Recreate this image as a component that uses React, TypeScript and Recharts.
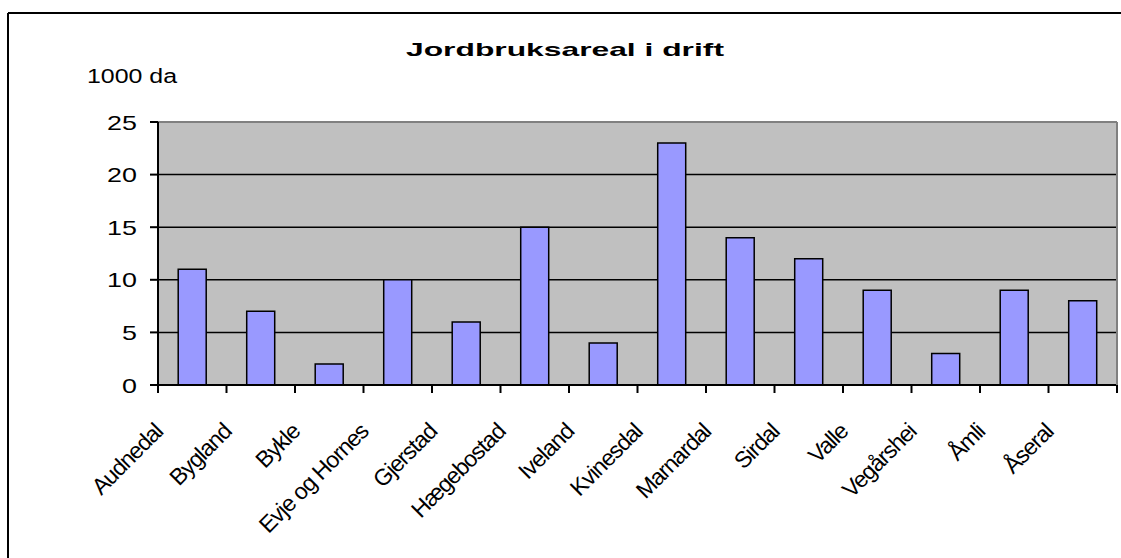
import { BarChart, Bar, XAxis, YAxis, CartesianGrid, ReferenceLine } from 'recharts'

const kommuner = [
  'Audnedal', 'Bygland', 'Bykle', 'Evje og Hornes', 'Gjerstad', 'Hægebostad', 'Iveland',
  'Kvinesdal', 'Marnardal', 'Sirdal', 'Valle', 'Vegårshei', 'Åmli', 'Åseral',
]
const areal = [11, 7, 2, 10, 6, 15, 4, 23, 14, 12, 9, 3, 9, 8]
const yTicks = [0, 5, 10, 15, 20, 25]
const title = 'Jordbruksareal i drift'
const unit = '1000 da'

const data = kommuner.map((name, i) => ({ name, areal: areal[i] }))

const W = 1121
const H = 558
const plotLeft = 158
const plotRight = 1117
const plotTop = 122
const plotBottom = 385
const band = (plotRight - plotLeft) / kommuner.length
const font = '"Liberation Sans", Arial, sans-serif'

function XTick(props: any) {
  const { x, y, payload, index } = props
  const right = x + band / 2
  const left = x - band / 2
  const tx = x - 28
  const ty = y + 48
  const last = index === kommuner.length - 1
  return (
    <g>
      {last && <line x1={right} x2={right} y1={plotTop} y2={y} stroke="#808080" strokeWidth={2} />}
      {index === 0 && <line x1={left} x2={left} y1={y} y2={y + 8} stroke="#000" strokeWidth={2} />}
      <line x1={right} x2={right} y1={y} y2={y + 8} stroke="#000" strokeWidth={2} />
      <text
        x={tx}
        y={ty}
        transform={`rotate(-45, ${tx}, ${ty})`}
        textAnchor="end"
        fontSize={23}
        letterSpacing={-1}
        fontFamily={font}
        fill="#000"
      >
        {payload.value}
      </text>
    </g>
  )
}

function YTick(props: any) {
  const { x, y, payload } = props
  return (
    <text
      transform={`translate(${x}, ${y}) scale(1.28, 1)`}
      textAnchor="end"
      dy="0.36em"
      fontSize={21}
      fontFamily={font}
      fill="#000"
    >
      {payload.value}
    </text>
  )
}

export default function App() {
  return (
    <div style={{ position: 'fixed', left: 0, top: 0, width: W, height: H, overflow: 'hidden', background: '#fff' }}>
      <svg width={W} height={H} style={{ position: 'absolute', left: 0, top: 0, display: 'block' }}>
        {/* outer frame, only top and left edges are inside the picture */}
        <line x1={8} y1={13} x2={W + 10} y2={13} stroke="#000" strokeWidth={2} />
        <line x1={8} y1={13} x2={8} y2={H + 10} stroke="#000" strokeWidth={2} />
        <text x={565} y={56} textAnchor="middle" fontSize={19} fontWeight="bold" fontFamily={font}
          textLength={318} lengthAdjust="spacingAndGlyphs">
          {title}
        </text>
        <text x={87} y={83} fontSize={20} fontFamily={font} textLength={90} lengthAdjust="spacingAndGlyphs">
          {unit}
        </text>
      </svg>
      <div style={{ position: 'absolute', left: 0, top: 0 }}>
        <BarChart
          width={W}
          height={H}
          data={data}
          margin={{ top: plotTop, right: W - plotRight, bottom: 0, left: 0 }}
          barCategoryGap="29.5%"
        >
          <CartesianGrid vertical={false} stroke="#000" strokeWidth={1.5} fill="#C0C0C0" fillOpacity={1} />
          <ReferenceLine y={25} stroke="#808080" strokeWidth={2} />
          <XAxis
            dataKey="name"
            interval={0}
            tickLine={false}
            tickSize={0}
            tickMargin={0}
            height={H - plotBottom}
            axisLine={{ stroke: '#000', strokeWidth: 2 }}
            tick={<XTick />}
          />
          <YAxis
            width={plotLeft}
            domain={[0, 25]}
            ticks={yTicks}
            interval={0}
            tickSize={8}
            tickMargin={13}
            tickLine={{ stroke: '#000', strokeWidth: 2 }}
            axisLine={{ stroke: '#000', strokeWidth: 2 }}
            tick={<YTick />}
          />
          <Bar dataKey="areal" fill="#9999FF" stroke="#000" strokeWidth={1.5} isAnimationActive={false} />
        </BarChart>
      </div>
    </div>
  )
}
